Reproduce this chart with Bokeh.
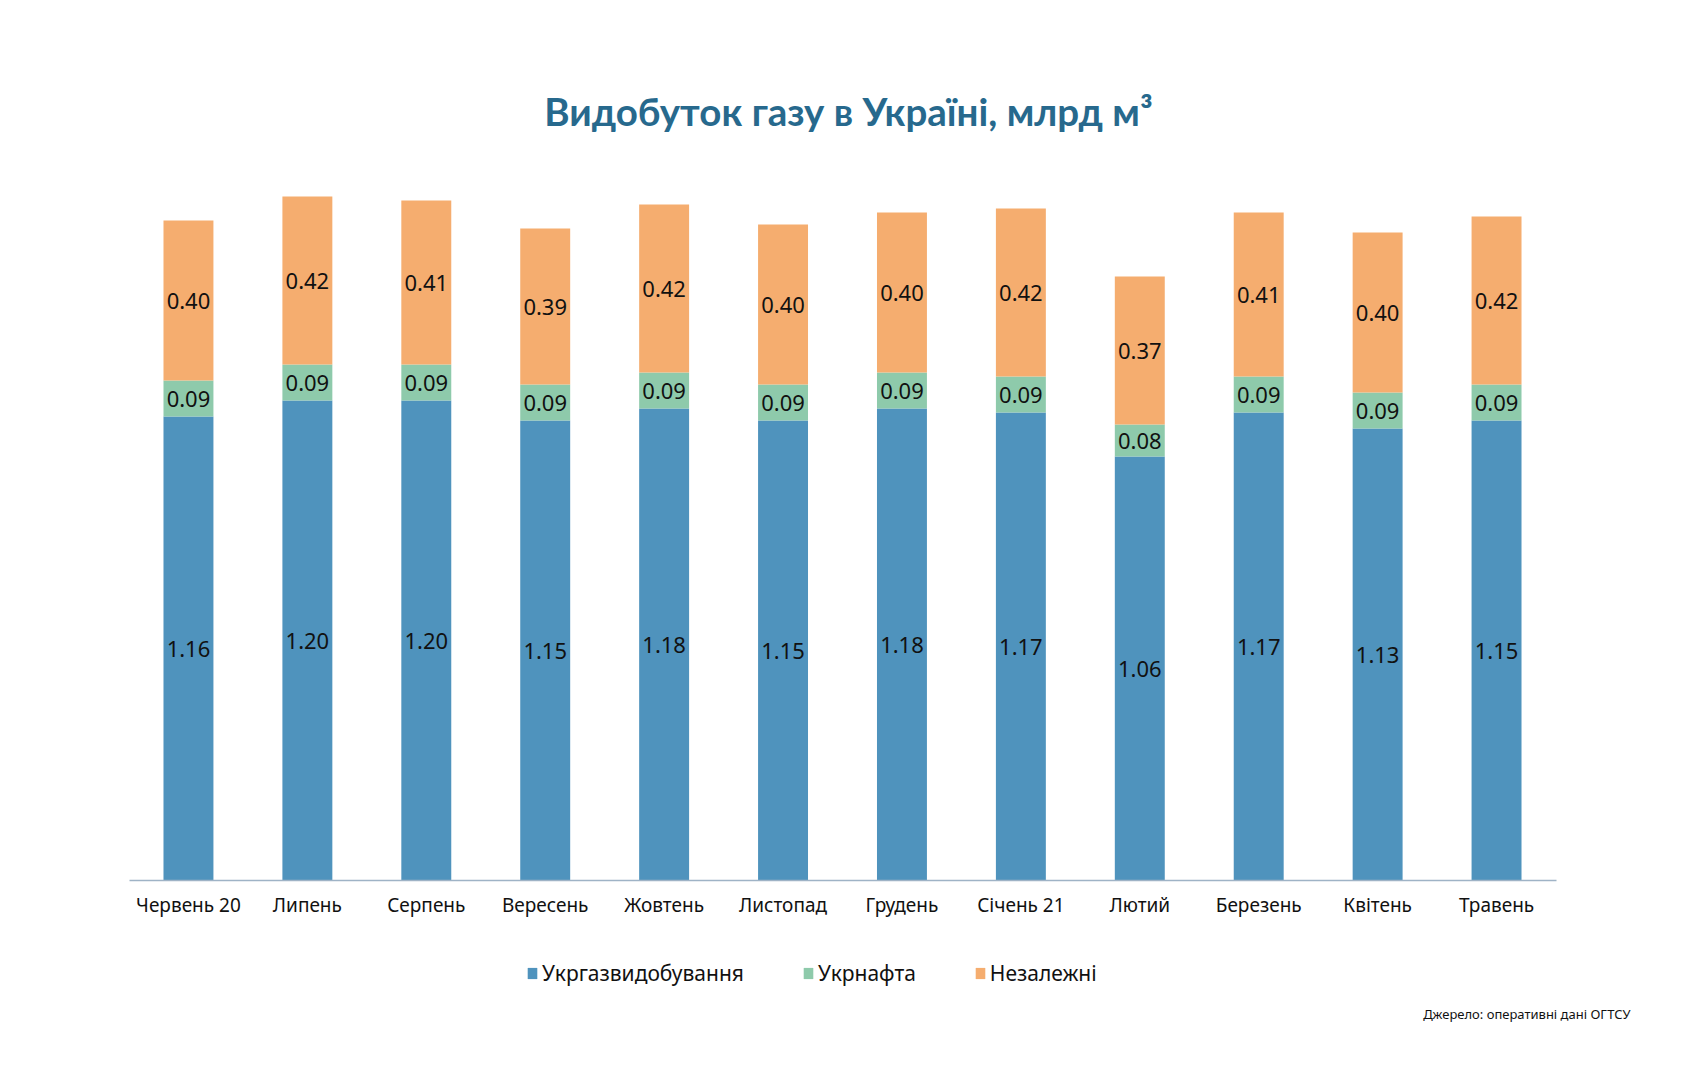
from bokeh.plotting import figure
from bokeh.models import ColumnDataSource, Legend, LegendItem, FactorRange, CategoricalAxis
from bokeh.core.properties import value
from bokeh.embed import file_html
from bokeh.resources import INLINE

months = ["Червень 20", "Липень", "Серпень", "Вересень", "Жовтень", "Листопад",
          "Грудень", "Січень 21", "Лютий", "Березень", "Квітень", "Травень"]
ukrgaz = [1.16, 1.20, 1.20, 1.15, 1.18, 1.15, 1.18, 1.17, 1.06, 1.17, 1.13, 1.15]
ukrnafta = [0.09, 0.09, 0.09, 0.09, 0.09, 0.09, 0.09, 0.09, 0.08, 0.09, 0.09, 0.09]
independent = [0.40, 0.42, 0.41, 0.39, 0.42, 0.40, 0.40, 0.42, 0.37, 0.41, 0.40, 0.42]
series_names = ["Укргазвидобування", "Укрнафта", "Незалежні"]
colors = ["#4f93bd", "#8ecaab", "#f5ad6f"]

title_text = "Видобуток газу в Україні, млрд м³"
source_text = "Джерело: оперативні дані ОГТСУ"

W, H = 1684, 1080
left, right, base = 128.5, 1555.5, 880      # plot area edges in pixels
n = len(months)
pad = left / ((right - left) / n)       # padding in category units (same both sides)
px_per_cat = W / (n + 2 * pad)
px_per_unit = 400.0


def xpx(px):
    return px / px_per_cat - pad


keys = ["ukrgaz", "ukrnafta", "independent"]
src = ColumnDataSource(dict(month=months, ukrgaz=ukrgaz, ukrnafta=ukrnafta, independent=independent))

x_range = FactorRange(factors=months, range_padding=pad, range_padding_units="absolute")
y_range = (-(H - base) / px_per_unit, base / px_per_unit)

p = figure(x_range=x_range, y_range=y_range, width=W, height=H,
           output_backend="svg", toolbar_location=None, x_axis_location=None,
           y_axis_location=None, min_border=0)
p.outline_line_color = None
p.xgrid.visible = False
p.ygrid.visible = False
p.background_fill_color = "white"
p.border_fill_color = "white"

renderers = p.vbar_stack(keys, x="month", width=0.42, color=colors, source=src, line_color=None)

# value labels centred in each segment
lx, ly, lt = [], [], []
for i, m in enumerate(months):
    bottom = 0.0
    for arr in (ukrgaz, ukrnafta, independent):
        v = arr[i]
        lx.append(m)
        ly.append(bottom + v / 2)
        lt.append(f"{v:.2f}")
        bottom += v
p.text(x=lx, y=ly, text=lt, text_align="center", text_baseline="middle",
       text_font=value("Noto Sans"), text_font_size="22px", text_color="#111111")

xa = CategoricalAxis(fixed_location=0, bounds=(0, n))
xa.axis_line_color = "#9fb3c6"
xa.axis_line_width = 1.5
xa.major_tick_line_color = None
xa.minor_tick_line_color = None
xa.major_label_text_font = "Noto Sans"
xa.major_label_text_font_size = "19px"
xa.major_label_text_color = "#111111"
xa.major_label_standoff = 5
p.add_layout(xa, "below")

# title and source note
p.text(x=[xpx(848)], y=[(base - 110) / px_per_unit], text=[title_text],
       text_align="center", text_baseline="middle", text_font=value("Lato"),
       text_font_style="bold", text_font_size="38.5px", text_color="#27698d")
p.text(x=[xpx(1630)], y=[-(1013 - base) / px_per_unit], text=[source_text],
       text_align="right", text_baseline="middle", text_font=value("Noto Sans"),
       text_font_size="13px", text_color="#111111")

legend = Legend(items=[LegendItem(label=nm, renderers=[r]) for nm, r in zip(series_names, renderers)],
                orientation="horizontal", location=(526, H - 987),
                glyph_width=12, glyph_height=14, label_standoff=4, spacing=58,
                padding=0, margin=0, border_line_color=None, background_fill_alpha=0,
                label_text_font="Noto Sans", label_text_font_size="21px", label_text_color="#111111")
p.add_layout(legend, "center")

open("out.html", "w").write(file_html(p, INLINE))
